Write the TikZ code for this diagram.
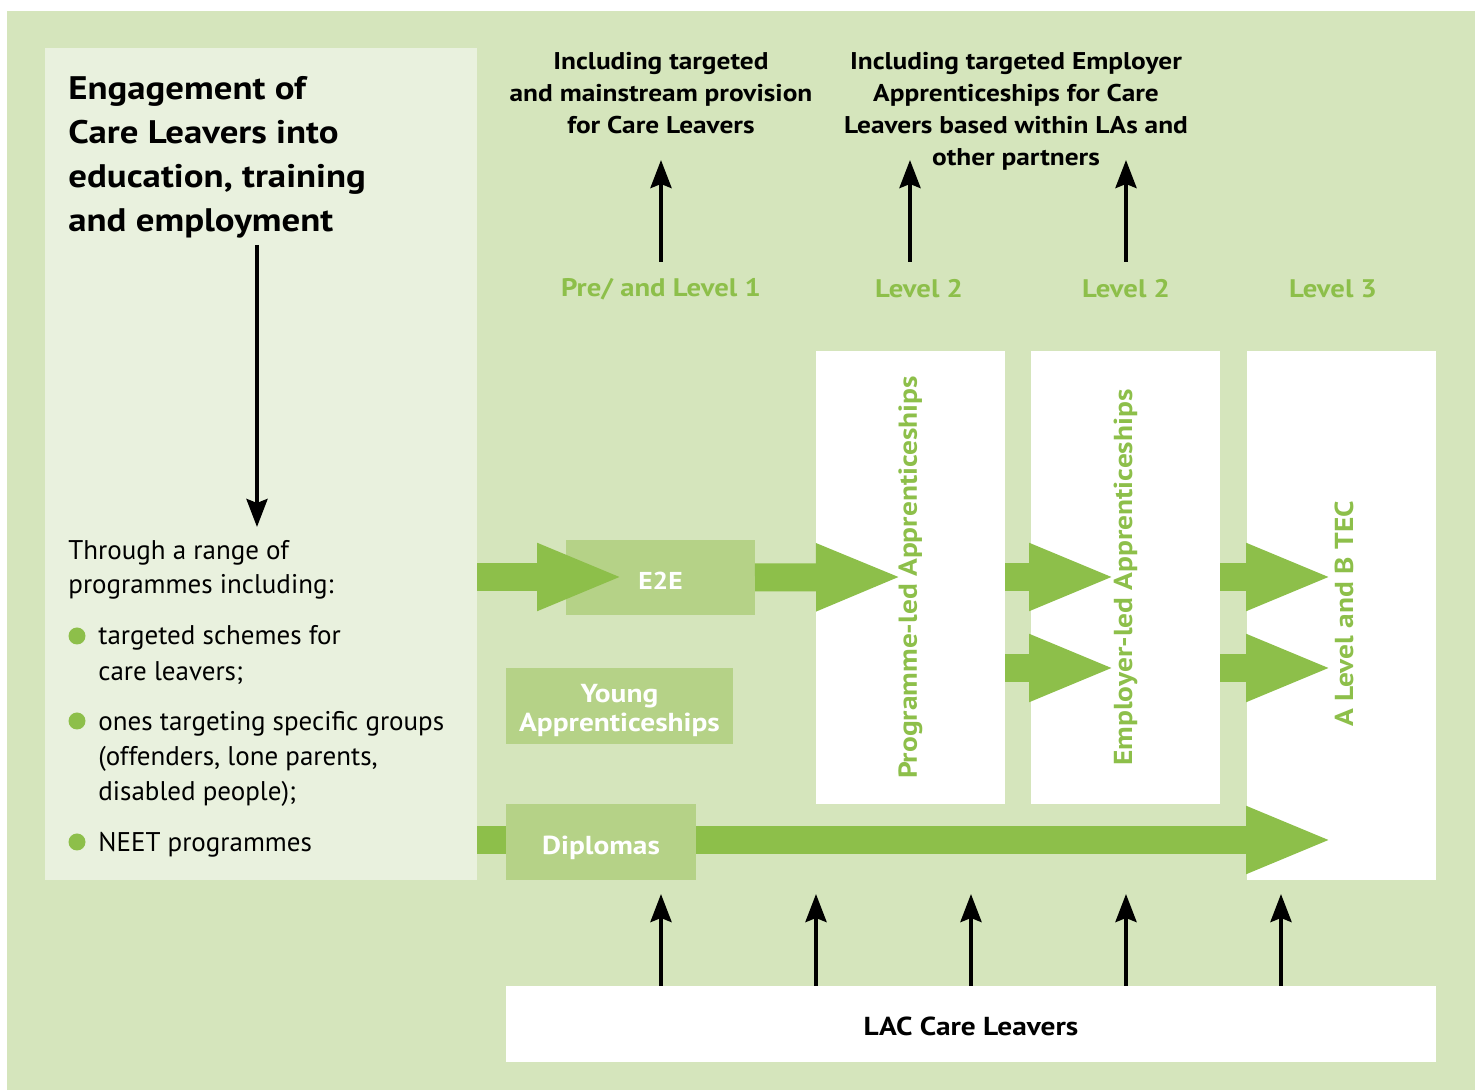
\documentclass[tikz,border=0pt]{standalone}
\usepackage{fontspec}
\setmainfont{PT Sans}[BoldFeatures={FakeStretch=1.13}]
\usetikzlibrary{arrows.meta,calc}
\definecolor{bgg}{HTML}{D5E5BC}
\definecolor{panelg}{HTML}{E9F1DE}
\definecolor{arrg}{HTML}{8DBF4A}
\definecolor{boxg}{HTML}{B5D287}
\tikzset{
  rectbox/.style={anchor=center, inner sep=0pt, outer sep=0pt},
  greenbox/.style={rectbox, fill=boxg},
  whitelbl/.style={text=white, font=\fontsize{13}{14.5}\selectfont\bfseries, align=center, inner sep=0pt},
  whitecol/.style={rectbox, fill=white, text=arrg, font=\fontsize{13}{16}\selectfont\bfseries},
  garrow/.style={draw=arrg, line width=14pt, -{Triangle[length=43.5pt,width=30.5pt]}},
  barrow/.style={draw=black, line width=2pt, -{Stealth[length=14pt,width=10.5pt,inset=2pt]}},
  leveltxt/.style={text=arrg, font=\fontsize{12.7}{15}\selectfont\bfseries, inner sep=0pt},
  toptxt/.style={font=\fontsize{12.1}{16}\selectfont\bfseries, align=center, inner sep=0pt, anchor=north},
  bodytxt/.style={font=\fontsize{13.5}{17.5}\selectfont, align=left, inner sep=0pt, anchor=north west},
  bulletdot/.style={circle, fill=arrg, inner sep=0pt, minimum size=8.5pt},
}
\begin{document}
\begin{tikzpicture}[x=0.5pt,y=-0.5pt]
\useasboundingbox (0,0) rectangle (1480,1090);
\fill[white] (0,0) rectangle (1480,1090);
\fill[bgg] (7,11) rectangle (1475,1090);

% left panel
\node[rectbox, fill=panelg, minimum width=216pt, minimum height=416pt] (panel) at (261,464) {};
\node[font=\fontsize{16.3}{22}\selectfont\bfseries, align=left, inner sep=0pt, anchor=north west] (title) at (68,76)
  {Engagement of\\Care Leavers into\\education, training\\and employment};
\coordinate (downs) at (257,245);
\coordinate (downe) at (257,527);
\draw[barrow] (downs) -- (downe);
\node[bodytxt, font=\fontsize{13.5}{17}\selectfont] (through) at (68,540) {Through a range of\\programmes including:};
\node[bulletdot] (b1) at (77,636) {};
\node[bodytxt, font=\fontsize{13.5}{18}\selectfont] (t1) at (98,625) {targeted schemes for\\care leavers;};
\node[bulletdot] (b2) at (77,721) {};
\node[bodytxt] (t2) at (98,711) {ones targeting specific groups\\(offenders, lone parents,\\disabled people);};
\node[bulletdot] (b3) at (77,842) {};
\node[bodytxt] (t3) at (98,832) {NEET programmes};

% top texts
\node[toptxt] (top1) at (661,52) {Including targeted\\and mainstream provision\\for Care Leavers};
\node[toptxt] (top2) at (1016,52) {Including targeted Employer\\Apprenticeships for Care\\Leavers based within LAs and\\other partners};

% level labels
\node[leveltxt] (lv1) at (661,289) {Pre/ and Level 1};
\node[leveltxt] (lv2) at (919,289) {Level 2};
\node[leveltxt] (lv3) at (1126,289) {Level 2};
\node[leveltxt] (lv4) at (1333,289) {Level 3};

\coordinate (ua1s) at (661,262); \coordinate (ua1e) at (661,160);
\coordinate (ua2s) at (910,262); \coordinate (ua2e) at (910,160);
\coordinate (ua3s) at (1126,262); \coordinate (ua3e) at (1126,160);
\draw[barrow] (ua1s) -- (ua1e);
\draw[barrow] (ua2s) -- (ua2e);
\draw[barrow] (ua3s) -- (ua3e);

% columns
\node[whitecol, rotate=90, minimum width=226.5pt, minimum height=94.5pt] (col1) at (910.5,577.5) {Programme-led Apprenticeships};
\node[whitecol, rotate=90, minimum width=226.5pt, minimum height=94.5pt] (col2) at (1125.5,577.5) {Employer-led Apprenticeships};
\node[rectbox, fill=white, minimum width=94.5pt, minimum height=264.5pt] (col3) at (1341.5,615.5) {};
\node[whitecol, rotate=90, fill=none, inner sep=0pt] (col3t) at (1344,614) {A Level and B TEC};

% boxes
\node[greenbox, minimum width=94.5pt, minimum height=37.5pt,
  label={[whitelbl, font=\fontsize{12.2}{14}\selectfont\bfseries, yshift=-1.5pt]center:E2E}] (e2e) at (660.5,577.5) {};
\node[greenbox, minimum width=113.5pt, minimum height=38pt,
  label={[whitelbl, yshift=-2.2pt]center:{Young\\Apprenticeships}}] (young) at (619.5,706) {};

% diplomas arrow behind its box
\coordinate (dipl) at (477,840);
\coordinate (diptip) at (1333,840);
\draw[garrow] (dipl) -- (diptip);
\node[greenbox, minimum width=95pt, minimum height=38pt,
  label={[whitelbl, yshift=-2.8pt]center:Diplomas}] (diplomas) at (601,842) {};

% green arrows
\coordinate (a1s) at (477,577); \coordinate (a1e) at (624,577);
\coordinate (a2e) at (903,577);
\coordinate (a3s) at (1005,577); \coordinate (a3e) at (1116,577);
\coordinate (a4s) at (1005,668); \coordinate (a4e) at (1116,668);
\coordinate (a5s) at (1220,577); \coordinate (a5e) at (1333,577);
\coordinate (a6s) at (1220,668); \coordinate (a6e) at (1333,668);
\draw[garrow] (a1s) -- (a1e);
\draw[garrow] (e2e.east) -- (a2e);
\draw[garrow] (a3s) -- (a3e);
\draw[garrow] (a4s) -- (a4e);
\draw[garrow] (a5s) -- (a5e);
\draw[garrow] (a6s) -- (a6e);

% LAC
\node[rectbox, fill=white, minimum width=465pt, minimum height=38pt,
  label={[inner sep=0pt, font=\fontsize{13}{14}\selectfont\bfseries, yshift=-1pt]center:LAC Care Leavers}] (lac) at (971,1024) {};
\foreach \x in {661,816,971,1126,1281}{
  \draw[barrow] (lac.north -| \x,0) -- (\x,894);
}
\end{tikzpicture}
\end{document}
